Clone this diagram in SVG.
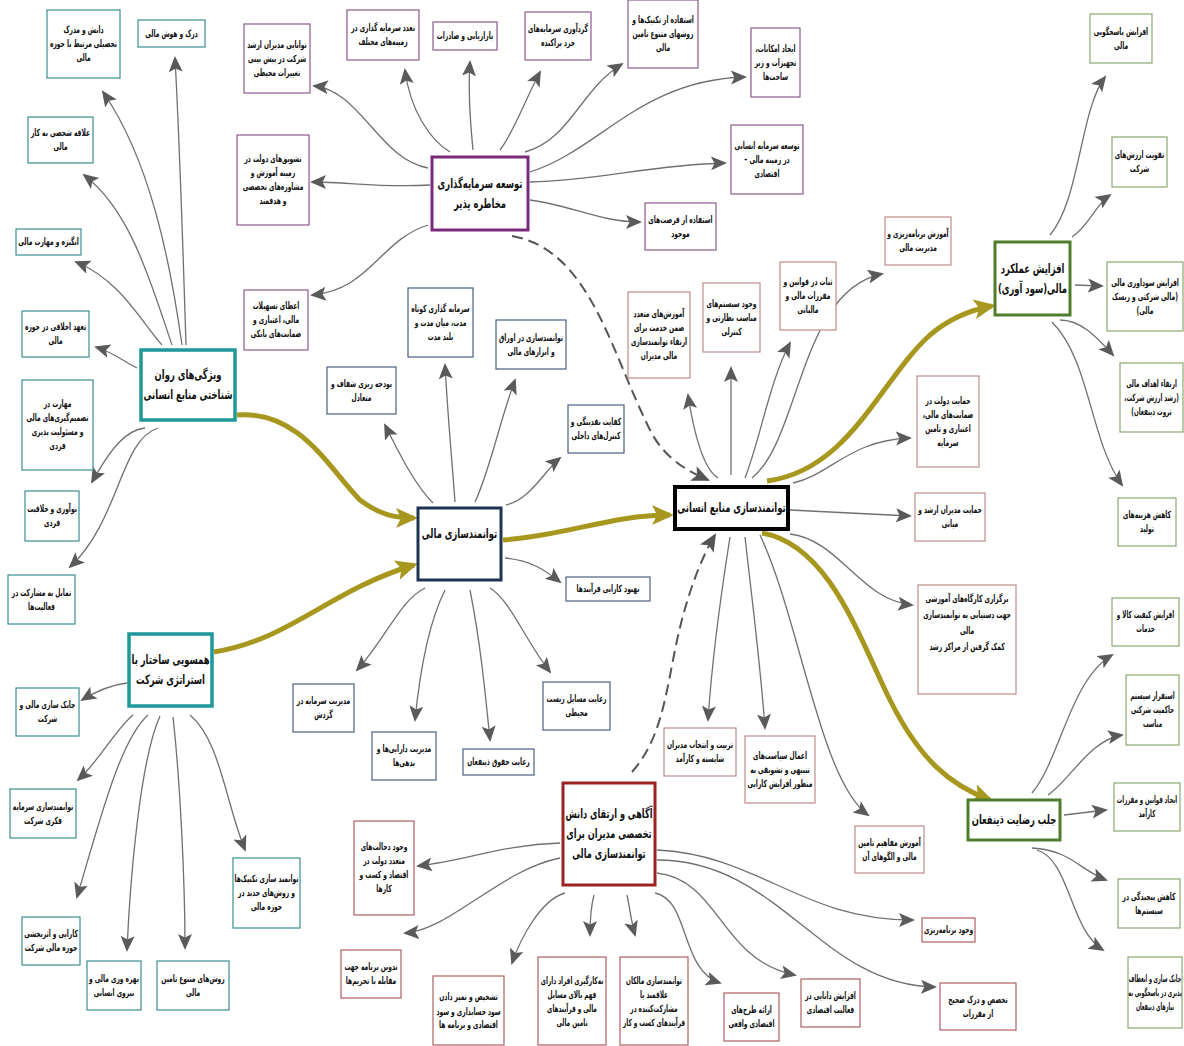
<svg xmlns="http://www.w3.org/2000/svg" width="1184" height="1046" viewBox="0 0 1184 1046">
<style>
.b{fill:#fff;stroke-width:1.2}
.lp{stroke:#8a5a8a}.lt{stroke:#3a8f8f}.ln{stroke:#4a6080}.lh{stroke:#c08a8a}.lg{stroke:#8aa870}.lr{stroke:#b06060}
.hp{fill:#fff;stroke:#7b2a7b;stroke-width:3}
.ht{fill:#fff;stroke:#1e9898;stroke-width:3.5}
.hn{fill:#fff;stroke:#1e3450;stroke-width:3}
.hh{fill:#fff;stroke:#000;stroke-width:4}
.hg{fill:#fff;stroke:#4f7d2c;stroke-width:3}
.hr{fill:#fff;stroke:#9c2222;stroke-width:3}
text{font-family:"DejaVu Sans Condensed","DejaVu Sans",sans-serif;font-weight:bold;font-size:10px;text-anchor:middle;direction:rtl;fill:#111}
.ht2{font-size:13px}
.c{fill:none;stroke:#707070;stroke-width:1.3;marker-end:url(#a)}
.o{fill:none;stroke:#a8971f;stroke-width:5;marker-end:url(#ao)}
.d{fill:none;stroke:#555;stroke-width:2;stroke-dasharray:11 6;marker-end:url(#ad)}
</style>
<defs>
<marker id="a" markerUnits="userSpaceOnUse" markerWidth="18" markerHeight="16" refX="14" refY="7" orient="auto"><path d="M0,0 L16,7 L0,14 L3.5,7 Z" fill="#5a5a5a"/></marker>
<marker id="ad" markerUnits="userSpaceOnUse" markerWidth="20" markerHeight="18" refX="16" refY="8" orient="auto"><path d="M0,0 L18,8 L0,16 L4,8 Z" fill="#555"/></marker>
<marker id="ao" markerUnits="userSpaceOnUse" markerWidth="24" markerHeight="22" refX="18" refY="10" orient="auto"><path d="M0,0 L22,10 L0,20 L5,10 Z" fill="#a8971f"/></marker>
</defs>
<rect width="1184" height="1046" fill="#fff"/>

<g id="connectors">
<path class="c" d="M428,168 C380,160 360,90 314,86"/>
<path class="c" d="M430,185 C380,188 350,182 312,182"/>
<path class="c" d="M428,225 C380,240 370,290 312,295"/>
<path class="c" d="M450,152 C430,140 410,110 405,70"/>
<path class="c" d="M473,150 C470,120 468,90 470,62"/>
<path class="c" d="M500,150 C515,130 525,100 540,72"/>
<path class="c" d="M525,152 C570,140 580,90 622,64"/>
<path class="c" d="M530,172 C600,150 640,80 745,77"/>
<path class="c" d="M530,182 C600,180 650,165 725,163"/>
<path class="c" d="M530,200 C570,205 600,222 640,222"/>
<path class="d" d="M512,236 C590,250 610,350 650,430 C665,460 690,472 708,480"/>
<path class="c" d="M182,345 C170,260 150,160 103,92"/>
<path class="c" d="M186,345 C183,250 180,150 175,58"/>
<path class="c" d="M172,345 C150,280 130,210 84,175"/>
<path class="c" d="M162,345 C140,320 120,280 76,262"/>
<path class="c" d="M137,368 C125,362 112,352 96,347"/>
<path class="c" d="M145,428 C125,430 110,450 92,482"/>
<path class="c" d="M158,428 C120,440 120,520 70,567"/>
<path class="c" d="M127,683 C110,685 95,692 82,700"/>
<path class="c" d="M133,715 C115,730 100,760 78,780"/>
<path class="c" d="M148,715 C120,740 100,820 77,897"/>
<path class="c" d="M160,716 C140,760 130,880 127,950"/>
<path class="c" d="M173,717 C180,780 185,880 185,948"/>
<path class="c" d="M190,715 C220,740 225,800 245,850"/>
<path class="c" d="M433,503 C415,485 400,455 385,425"/>
<path class="c" d="M455,502 C452,460 448,420 445,365"/>
<path class="c" d="M475,502 C490,470 500,420 515,380"/>
<path class="c" d="M506,505 C530,500 545,470 560,458"/>
<path class="c" d="M505,558 C530,560 545,570 560,582"/>
<path class="c" d="M425,588 C400,600 385,640 357,670"/>
<path class="c" d="M445,590 C430,620 420,670 415,720"/>
<path class="c" d="M470,590 C480,640 485,690 490,740"/>
<path class="c" d="M490,588 C510,600 525,640 550,672"/>
<path class="c" d="M718,478 C705,470 695,440 688,395"/>
<path class="c" d="M731,475 L731,368"/>
<path class="c" d="M745,478 C760,440 770,380 790,343"/>
<path class="c" d="M752,478 C800,440 800,290 882,274"/>
<path class="c" d="M793,483 C830,475 850,440 910,438"/>
<path class="c" d="M790,510 L910,516"/>
<path class="c" d="M790,534 C840,540 860,600 912,605"/>
<path class="c" d="M730,537 C720,600 712,660 708,720"/>
<path class="c" d="M745,537 C752,600 760,660 765,728"/>
<path class="c" d="M760,535 C800,620 820,780 868,815"/>
<path class="d" d="M632,772 C660,740 665,700 675,650 C685,600 700,560 715,535"/>
<path class="c" d="M1050,235 C1080,200 1080,110 1105,77"/>
<path class="c" d="M1072,237 C1090,225 1095,205 1110,195"/>
<path class="c" d="M1075,285 L1102,286"/>
<path class="c" d="M1060,320 C1080,320 1095,335 1113,355"/>
<path class="c" d="M1052,322 C1090,360 1090,440 1122,485"/>
<path class="c" d="M1032,793 C1060,760 1070,680 1112,655"/>
<path class="c" d="M1048,795 C1070,780 1090,740 1122,735"/>
<path class="c" d="M1064,815 L1106,810"/>
<path class="c" d="M1032,848 C1070,850 1080,870 1106,880"/>
<path class="c" d="M1037,850 C1070,860 1070,930 1103,950"/>
<path class="c" d="M560,843 C500,845 470,860 418,866"/>
<path class="c" d="M560,858 C500,870 450,930 405,933"/>
<path class="c" d="M565,893 C540,900 520,940 512,963"/>
<path class="c" d="M594,895 C590,910 590,925 590,935"/>
<path class="c" d="M627,895 C630,910 632,925 635,935"/>
<path class="c" d="M655,893 C690,900 680,970 720,983"/>
<path class="c" d="M657,873 C720,880 720,960 795,975"/>
<path class="c" d="M657,850 C760,855 800,920 913,920"/>
<path class="c" d="M657,860 C780,860 820,985 935,987"/>
<path class="o" d="M237,415 C300,410 330,470 360,500 C380,515 395,518 414,518"/>
<path class="o" d="M214,652 C290,640 330,590 414,565"/>
<path class="o" d="M503,540 C570,535 610,515 670,515"/>
<path class="o" d="M767,481 C850,470 880,380 930,335 C950,318 970,310 992,306"/>
<path class="o" d="M762,533 C830,545 860,640 890,700 C920,760 950,785 990,800"/>
</g>

<g id="hub-venture"><rect class="hp" x="432" y="157" width="96" height="73"/><text class="ht2" transform="translate(480,0) scale(.72,1)" y="188"><tspan x="0">توسعه سرمایه‌گذاری</tspan><tspan x="0" dy="20">مخاطره پذیر</tspan></text></g>
<g id="p1"><rect class="b lp" x="244" y="24" width="66" height="69"/><text transform="translate(277,0) scale(.66,1)" y="48"><tspan x="0">توانایی مدیران ارشد</tspan><tspan x="0" dy="14">شرکت در پیش بینی</tspan><tspan x="0" dy="14">تغییرات محیطی</tspan></text></g>
<g id="p2"><rect class="b lp" x="347" y="10" width="72" height="50"/><text transform="translate(383,0) scale(.66,1)" y="31.5"><tspan x="0">تعدد سرمایه گذاری در</tspan><tspan x="0" dy="14">زمینه‌های مختلف</tspan></text></g>
<g id="p3"><rect class="b lp" x="433" y="22" width="64" height="28"/><text transform="translate(465,0) scale(.66,1)" y="39.5">بازاریابی و صادرات</text></g>
<g id="p4"><rect class="b lp" x="525" y="12" width="66" height="48"/><text transform="translate(558,0) scale(.66,1)" y="32.5"><tspan x="0">گردآوری سرمایه‌های</tspan><tspan x="0" dy="14">خرد پراکنده</tspan></text></g>
<g id="p5"><rect class="b lp" x="628" y="0" width="70" height="68"/><text transform="translate(663,0) scale(.66,1)" y="23.5"><tspan x="0">استفاده از تکنیک‌ها و</tspan><tspan x="0" dy="14">روشهای متنوع تامین</tspan><tspan x="0" dy="14">مالی</tspan></text></g>
<g id="p6"><rect class="b lp" x="751" y="28" width="49" height="69"/><text transform="translate(775.5,0) scale(.66,1)" y="52"><tspan x="0">ایجاد امکانات،</tspan><tspan x="0" dy="14">تجهیزات و زیر</tspan><tspan x="0" dy="14">ساخت‌ها</tspan></text></g>
<g id="p7"><rect class="b lp" x="731" y="125" width="72" height="69"/><text transform="translate(767,0) scale(.66,1)" y="149"><tspan x="0">توسعه سرمایه انسانی</tspan><tspan x="0" dy="14">در زمینه مالی –</tspan><tspan x="0" dy="14">اقتصادی</tspan></text></g>
<g id="p8"><rect class="b lp" x="645" y="203" width="71" height="47"/><text transform="translate(680.5,0) scale(.66,1)" y="223"><tspan x="0">استفاده از فرصت‌های</tspan><tspan x="0" dy="14">موجود</tspan></text></g>
<g id="p9"><rect class="b lp" x="237" y="135" width="72" height="90"/><text transform="translate(273,0) scale(.66,1)" y="162.5"><tspan x="0">تشویق‌های دولت در</tspan><tspan x="0" dy="14">زمینه آموزش و</tspan><tspan x="0" dy="14">مشاوره‌های تخصصی</tspan><tspan x="0" dy="14">و هدفمند</tspan></text></g>
<g id="p10"><rect class="b lp" x="244" y="290" width="64" height="60"/><text transform="translate(276,0) scale(.66,1)" y="309.5"><tspan x="0">اعطای تسهیلات</tspan><tspan x="0" dy="14">مالی، اعتباری و</tspan><tspan x="0" dy="14">ضمانت‌های بانکی</tspan></text></g>

<g id="hub-psych"><rect class="ht" x="141" y="350" width="94" height="70"/><text class="ht2" transform="translate(188,0) scale(.72,1)" y="379.5"><tspan x="0">ویژگی‌های روان</tspan><tspan x="0" dy="20">شناختی منابع انسانی</tspan></text></g>
<g id="t1"><rect class="b lt" x="47" y="10" width="73" height="68"/><text transform="translate(83.5,0) scale(.66,1)" y="33.5"><tspan x="0">دانش و مدرک</tspan><tspan x="0" dy="14">تحصیلی مرتبط با حوزه</tspan><tspan x="0" dy="14">مالی</tspan></text></g>
<g id="t2"><rect class="b lt" x="138" y="20" width="67" height="27"/><text transform="translate(171.5,0) scale(.66,1)" y="37">درک و هوش مالی</text></g>
<g id="t3"><rect class="b lt" x="28" y="117" width="65" height="46"/><text transform="translate(60.5,0) scale(.66,1)" y="136.5"><tspan x="0">علاقه شخصی به کار</tspan><tspan x="0" dy="14">مالی</tspan></text></g>
<g id="t4"><rect class="b lt" x="16" y="229" width="65" height="26"/><text transform="translate(48.5,0) scale(.66,1)" y="245.5">انگیزه و مهارت مالی</text></g>
<g id="t5"><rect class="b lt" x="22" y="311" width="67" height="46"/><text transform="translate(55.5,0) scale(.66,1)" y="330.5"><tspan x="0">تعهد اخلاقی در حوزه</tspan><tspan x="0" dy="14">مالی</tspan></text></g>
<g id="t6"><rect class="b lt" x="22" y="380" width="71" height="90"/><text transform="translate(57.5,0) scale(.66,1)" y="407.5"><tspan x="0">مهارت در</tspan><tspan x="0" dy="14">تصمیم‌گیری‌های مالی</tspan><tspan x="0" dy="14">و مسئولیت پذیری</tspan><tspan x="0" dy="14">فردی</tspan></text></g>
<g id="t7"><rect class="b lt" x="25" y="491" width="54" height="50"/><text transform="translate(52,0) scale(.66,1)" y="512.5"><tspan x="0">نوآوری و خلاقیت</tspan><tspan x="0" dy="14">فردی</tspan></text></g>
<g id="t8"><rect class="b lt" x="8" y="575" width="67" height="49"/><text transform="translate(41.5,0) scale(.66,1)" y="596"><tspan x="0">تمایل به مشارکت در</tspan><tspan x="0" dy="14">فعالیت‌ها</tspan></text></g>

<g id="hub-align"><rect class="ht" x="129" y="634" width="83" height="72"/><text class="ht2" transform="translate(170.5,0) scale(.72,1)" y="664.5"><tspan x="0">همسویی ساختار با</tspan><tspan x="0" dy="20">استراتژی شرکت</tspan></text></g>
<g id="t9"><rect class="b lt" x="16" y="688" width="63" height="48"/><text transform="translate(47.5,0) scale(.66,1)" y="708.5"><tspan x="0">چابک سازی مالی و</tspan><tspan x="0" dy="14">شرکت</tspan></text></g>
<g id="t10"><rect class="b lt" x="10" y="789" width="66" height="49"/><text transform="translate(43,0) scale(.66,1)" y="810"><tspan x="0">توانمندسازی سرمایه</tspan><tspan x="0" dy="14">فکری شرکت</tspan></text></g>
<g id="t11"><rect class="b lt" x="22" y="917" width="58" height="48"/><text transform="translate(51,0) scale(.66,1)" y="937.5"><tspan x="0">کارایی و اثربخشی</tspan><tspan x="0" dy="14">حوزه مالی شرکت</tspan></text></g>
<g id="t12"><rect class="b lt" x="87" y="961" width="54" height="49"/><text transform="translate(114,0) scale(.66,1)" y="982"><tspan x="0">بهره وری مالی و</tspan><tspan x="0" dy="14">نیروی انسانی</tspan></text></g>
<g id="t13"><rect class="b lt" x="157" y="961" width="72" height="49"/><text transform="translate(193,0) scale(.66,1)" y="982"><tspan x="0">روش‌های متنوع تامین</tspan><tspan x="0" dy="14">مالی</tspan></text></g>
<g id="t14"><rect class="b lt" x="233" y="858" width="67" height="70"/><text transform="translate(266.5,0) scale(.66,1)" y="882.5"><tspan x="0">توانمند سازی تکنیک‌ها</tspan><tspan x="0" dy="14">و روش‌های جدید در</tspan><tspan x="0" dy="14">حوزه مالی</tspan></text></g>

<g id="hub-fin"><rect class="hn" x="418" y="508" width="83" height="72"/><text class="ht2" transform="translate(459.5,0) scale(.72,1)" y="538">توانمندسازی مالی</text></g>
<g id="n1"><rect class="b ln" x="327" y="367" width="69" height="47"/><text transform="translate(361.5,0) scale(.66,1)" y="387"><tspan x="0">بودجه ریزی شفاف و</tspan><tspan x="0" dy="14">متعادل</tspan></text></g>
<g id="n2"><rect class="b ln" x="408" y="288" width="65" height="69"/><text transform="translate(440.5,0) scale(.66,1)" y="312"><tspan x="0">سرمایه گذاری کوتاه</tspan><tspan x="0" dy="14">مدت، میان مدت و</tspan><tspan x="0" dy="14">بلند مدت</tspan></text></g>
<g id="n3"><rect class="b ln" x="496" y="320" width="70" height="49"/><text transform="translate(531,0) scale(.66,1)" y="341"><tspan x="0">توانمندسازی در اوراق</tspan><tspan x="0" dy="14">و ابزارهای مالی</tspan></text></g>
<g id="n4"><rect class="b ln" x="568" y="405" width="56" height="48"/><text transform="translate(596,0) scale(.66,1)" y="425.5"><tspan x="0">کفایت نقدینگی و</tspan><tspan x="0" dy="14">کنترل‌های داخلی</tspan></text></g>
<g id="n5"><rect class="b ln" x="566" y="577" width="84" height="24"/><text transform="translate(608,0) scale(.66,1)" y="592.5">بهبود کارایی فرآیندها</text></g>
<g id="n6"><rect class="b ln" x="293" y="684" width="61" height="48"/><text transform="translate(323.5,0) scale(.66,1)" y="704.5"><tspan x="0">مدیریت سرمایه در</tspan><tspan x="0" dy="14">گردش</tspan></text></g>
<g id="n7"><rect class="b ln" x="372" y="732" width="64" height="48"/><text transform="translate(404,0) scale(.66,1)" y="752.5"><tspan x="0">مدیریت دارایی‌ها و</tspan><tspan x="0" dy="14">بدهی‌ها</tspan></text></g>
<g id="n8"><rect class="b ln" x="463" y="749" width="71" height="26"/><text transform="translate(498.5,0) scale(.66,1)" y="765.5">رعایت حقوق ذینفعان</text></g>
<g id="n9"><rect class="b ln" x="543" y="682" width="67" height="48"/><text transform="translate(576.5,0) scale(.66,1)" y="702.5"><tspan x="0">رعایت مسایل زیست</tspan><tspan x="0" dy="14">محیطی</tspan></text></g>

<g id="hub-hr"><rect class="hh" x="675" y="487" width="113" height="42"/><text class="ht2" transform="translate(731.5,0) scale(.72,1)" y="512.5">توانمندسازی منابع انسانی</text></g>
<g id="h1"><rect class="b lh" x="628" y="292" width="62" height="86"/><text transform="translate(659,0) scale(.66,1)" y="317.5"><tspan x="0">آموزش‌های متعدد</tspan><tspan x="0" dy="14">ضمن خدمت برای</tspan><tspan x="0" dy="14">ارتقاء توانمندسازی</tspan><tspan x="0" dy="14">مالی مدیران</tspan></text></g>
<g id="h2"><rect class="b lh" x="703" y="283" width="57" height="69"/><text transform="translate(731.5,0) scale(.66,1)" y="307"><tspan x="0">وجود سیستم‌های</tspan><tspan x="0" dy="14">مناسب نظارتی و</tspan><tspan x="0" dy="14">کنترلی</tspan></text></g>
<g id="h3"><rect class="b lh" x="780" y="262" width="56" height="68"/><text transform="translate(808,0) scale(.66,1)" y="285.5"><tspan x="0">ثبات در قوانین و</tspan><tspan x="0" dy="14">مقررات مالی و</tspan><tspan x="0" dy="14">مالیاتی</tspan></text></g>
<g id="h4"><rect class="b lh" x="885" y="217" width="66" height="48"/><text transform="translate(918,0) scale(.66,1)" y="237.5"><tspan x="0">آموزش برنامه‌ریزی و</tspan><tspan x="0" dy="14">مدیریت مالی</tspan></text></g>
<g id="h5"><rect class="b lh" x="917" y="376" width="62" height="91"/><text transform="translate(948,0) scale(.66,1)" y="404"><tspan x="0">حمایت دولت در</tspan><tspan x="0" dy="14">ضمانت‌های مالی،</tspan><tspan x="0" dy="14">اعتباری و تامین</tspan><tspan x="0" dy="14">سرمایه</tspan></text></g>
<g id="h6"><rect class="b lh" x="915" y="493" width="70" height="48"/><text transform="translate(950,0) scale(.66,1)" y="513.5"><tspan x="0">حمایت مدیران ارشد و</tspan><tspan x="0" dy="14">میانی</tspan></text></g>
<g id="h7"><rect class="b lh" x="918" y="585" width="98" height="109"/><text transform="translate(967,0) scale(.66,1)" y="602"><tspan x="0">برگزاری کارگاه‌های آموزشی</tspan><tspan x="0" dy="16">جهت دستیابی به توانمندسازی</tspan><tspan x="0" dy="16">مالی</tspan><tspan x="0" dy="16">کمک گرفتن از مراکز رشد</tspan></text></g>
<g id="h8"><rect class="b lh" x="664" y="728" width="72" height="48"/><text transform="translate(700,0) scale(.66,1)" y="748.5"><tspan x="0">تربیت و انتخاب مدیران</tspan><tspan x="0" dy="14">شایسته و کارآمد</tspan></text></g>
<g id="h9"><rect class="b lh" x="745" y="736" width="70" height="67"/><text transform="translate(780,0) scale(.66,1)" y="759"><tspan x="0">اعمال سیاست‌های</tspan><tspan x="0" dy="14">تنبیهی و تشویقی به</tspan><tspan x="0" dy="14">منظور افزایش کارایی</tspan></text></g>
<g id="h10"><rect class="b lh" x="855" y="826" width="69" height="47"/><text transform="translate(889.5,0) scale(.66,1)" y="846"><tspan x="0">آموزش مفاهیم تامین</tspan><tspan x="0" dy="14">مالی و الگوهای آن</tspan></text></g>

<g id="hub-perf"><rect class="hg" x="995" y="242" width="75" height="73"/><text class="ht2" transform="translate(1032.5,0) scale(.72,1)" y="273"><tspan x="0">افزایش عملکرد</tspan><tspan x="0" dy="20">مالی(سود آوری)</tspan></text></g>
<g id="g1"><rect class="b lg" x="1090" y="14" width="62" height="49"/><text transform="translate(1121,0) scale(.66,1)" y="35"><tspan x="0">افزایش پاسخگویی</tspan><tspan x="0" dy="14">مالی</tspan></text></g>
<g id="g2"><rect class="b lg" x="1112" y="137" width="55" height="50"/><text transform="translate(1139.5,0) scale(.66,1)" y="158.5"><tspan x="0">تقویت ارزش‌های</tspan><tspan x="0" dy="14">شرکت</tspan></text></g>
<g id="g3"><rect class="b lg" x="1107" y="262" width="76" height="69"/><text transform="translate(1145,0) scale(.66,1)" y="286"><tspan x="0">افزایش سوداوری مالی</tspan><tspan x="0" dy="14">(مالی شرکتی و ریسک</tspan><tspan x="0" dy="14">مالی)</tspan></text></g>
<g id="g4"><rect class="b lg" x="1120" y="363" width="63" height="69"/><text transform="translate(1151.5,0) scale(.62,1)" y="387"><tspan x="0">ارتقاء اهداف مالی</tspan><tspan x="0" dy="14">(رشد ارزش شرکت،</tspan><tspan x="0" dy="14">ثروت ذینفعان)</tspan></text></g>
<g id="g5"><rect class="b lg" x="1118" y="498" width="58" height="48"/><text transform="translate(1147,0) scale(.66,1)" y="518.5"><tspan x="0">کاهش هزینه‌های</tspan><tspan x="0" dy="14">تولید</tspan></text></g>

<g id="hub-stake"><rect class="hg" x="968" y="800" width="92" height="40"/><text class="ht2" transform="translate(1014,0) scale(.72,1)" y="824.5">جلب رضایت ذینفعان</text></g>
<g id="g6"><rect class="b lg" x="1112" y="598" width="67" height="48"/><text transform="translate(1145.5,0) scale(.62,1)" y="618.5"><tspan x="0">افزایش کیفیت کالا و</tspan><tspan x="0" dy="14">خدمات</tspan></text></g>
<g id="g7"><rect class="b lg" x="1126" y="675" width="53" height="70"/><text transform="translate(1152.5,0) scale(.62,1)" y="699.5"><tspan x="0">استقرار سیستم</tspan><tspan x="0" dy="14">حاکمیت شرکتی</tspan><tspan x="0" dy="14">مناسب</tspan></text></g>
<g id="g8"><rect class="b lg" x="1114" y="783" width="66" height="48"/><text transform="translate(1147,0) scale(.6,1)" y="803.5"><tspan x="0">ایجاد قوانین و مقررات</tspan><tspan x="0" dy="14">کارآمد</tspan></text></g>
<g id="g9"><rect class="b lg" x="1118" y="879" width="62" height="49"/><text transform="translate(1149,0) scale(.66,1)" y="900"><tspan x="0">کاهش پیچیدگی در</tspan><tspan x="0" dy="14">سیستم‌ها</tspan></text></g>
<g id="g10"><rect class="b lg" x="1128" y="957" width="54" height="71"/><text transform="translate(1155,0) scale(.54,1)" y="982"><tspan x="0">چابک سازی و انعطاف</tspan><tspan x="0" dy="14">پذیری در پاسخگویی به</tspan><tspan x="0" dy="14">نیازهای ذینفعان</tspan></text></g>

<g id="hub-know"><rect class="hr" x="563" y="783" width="92" height="102"/><text class="ht2" transform="translate(609,0) scale(.7,1)" y="818.5"><tspan x="0">آگاهی و ارتقای دانش</tspan><tspan x="0" dy="20">تخصصی مدیران برای</tspan><tspan x="0" dy="20">توانمندسازی مالی</tspan></text></g>
<g id="r1"><rect class="b lr" x="354" y="821" width="60" height="94"/><text transform="translate(384,0) scale(.66,1)" y="850.5"><tspan x="0">وجود دخالت‌های</tspan><tspan x="0" dy="14">متعدد دولت در</tspan><tspan x="0" dy="14">اقتصاد و کسب و</tspan><tspan x="0" dy="14">کارها</tspan></text></g>
<g id="r2"><rect class="b lr" x="341" y="950" width="60" height="48"/><text transform="translate(371,0) scale(.66,1)" y="970.5"><tspan x="0">تدوین برنامه جهت</tspan><tspan x="0" dy="14">مقابله با تحریم‌ها</tspan></text></g>
<g id="r3"><rect class="b lr" x="433" y="976" width="71" height="69"/><text transform="translate(468.5,0) scale(.66,1)" y="1000.5"><tspan x="0">تشخیص و تمیز دادن</tspan><tspan x="0" dy="14">سود حسابداری و سود</tspan><tspan x="0" dy="14">اقتصادی و برنامه ها</tspan></text></g>
<g id="r4"><rect class="b lr" x="538" y="957" width="68" height="88"/><text transform="translate(572,0) scale(.64,1)" y="984"><tspan x="0">به‌کارگیری افراد دارای</tspan><tspan x="0" dy="14">فهم بالای مسایل</tspan><tspan x="0" dy="14">مالی و فرآیندهای</tspan><tspan x="0" dy="14">تامین مالی</tspan></text></g>
<g id="r5"><rect class="b lr" x="620" y="957" width="68" height="88"/><text transform="translate(654,0) scale(.64,1)" y="984"><tspan x="0">توانمندسازی مالکان</tspan><tspan x="0" dy="14">علاقمند یا</tspan><tspan x="0" dy="14">مشارکت‌کننده در</tspan><tspan x="0" dy="14">فرآیندهای کسب و کار</tspan></text></g>
<g id="r6"><rect class="b lr" x="724" y="993" width="55" height="48"/><text transform="translate(751.5,0) scale(.66,1)" y="1013.5"><tspan x="0">ارائه طرح‌های</tspan><tspan x="0" dy="14">اقتصادی واقعی</tspan></text></g>
<g id="r7"><rect class="b lr" x="801" y="979" width="59" height="48"/><text transform="translate(830.5,0) scale(.66,1)" y="999.5"><tspan x="0">افزایش دانایی در</tspan><tspan x="0" dy="14">فعالیت اقتصادی</tspan></text></g>
<g id="r8"><rect class="b lr" x="922" y="918" width="53" height="24"/><text transform="translate(948.5,0) scale(.66,1)" y="933.5">وجود برنامه‌ریزی</text></g>
<g id="r9"><rect class="b lr" x="940" y="983" width="76" height="47"/><text transform="translate(978,0) scale(.66,1)" y="1003"><tspan x="0">تخصص و درک صحیح</tspan><tspan x="0" dy="14">از مقررات</tspan></text></g>
</svg>
